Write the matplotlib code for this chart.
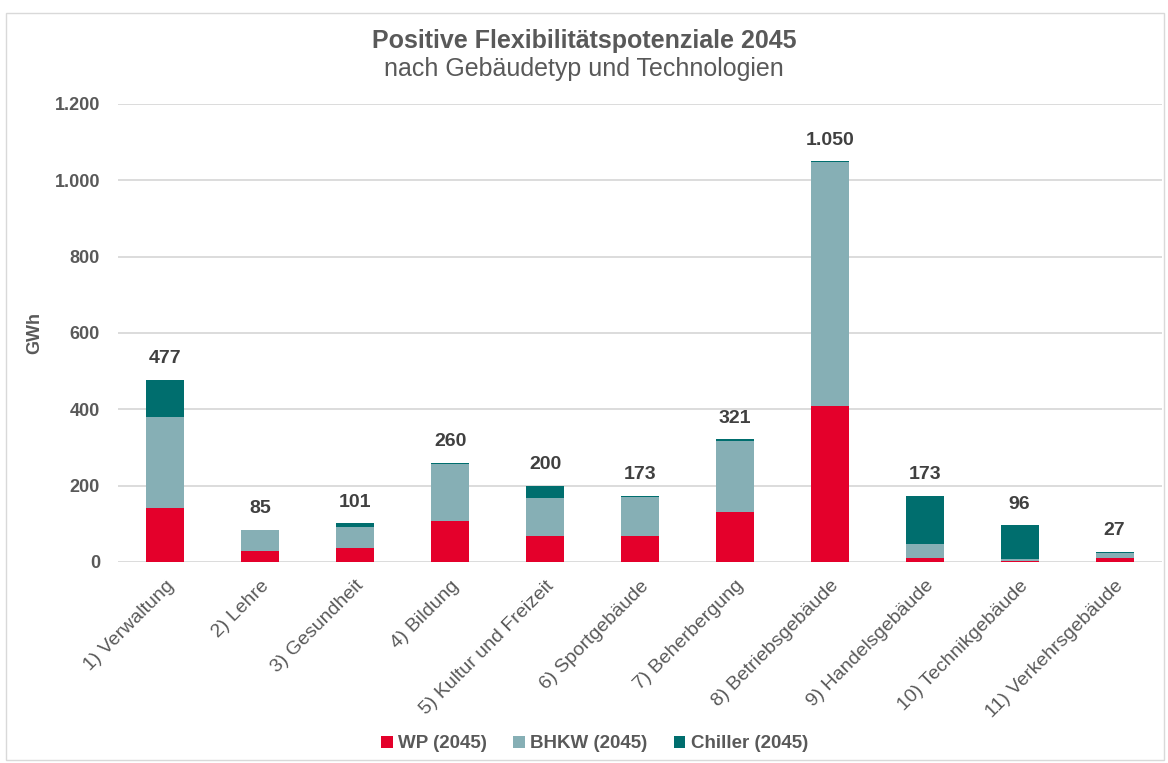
import matplotlib
matplotlib.use("Agg")
import matplotlib.pyplot as plt
from matplotlib.patches import Patch, Rectangle
from matplotlib.ticker import FuncFormatter
import numpy as np

plt.rcParams["font.family"] = ["Liberation Sans", "DejaVu Sans"]

categories = [
    "1) Verwaltung", "2) Lehre", "3) Gesundheit", "4) Bildung",
    "5) Kultur und Freizeit", "6) Sportgebäude", "7) Beherbergung",
    "8) Betriebsgebäude", "9) Handelsgebäude", "10) Technikgebäude",
    "11) Verkehrsgebäude",
]
wp = [142, 30, 36, 108, 69, 69, 132, 409, 10, 2, 10]
bhkw = [238, 54, 57, 148, 99, 102, 184, 639, 38, 5, 14]
chiller = [97, 1, 8, 4, 32, 2, 5, 2, 125, 89, 3]
totals = [477, 85, 101, 260, 200, 173, 321, 1050, 173, 96, 27]

C_WP = "#E4002B"
C_BHKW = "#86AFB5"
C_CHILLER = "#006E6E"
TEXT = "#595959"
LABEL = "#404040"
GRID = "#D9D9D9"


def de_thousands(v, _pos=None):
    return f"{int(round(v)):,}".replace(",", ".")


fig = plt.figure(figsize=(11.68, 7.63), dpi=100)
ax = fig.add_axes([118 / 1168, 201 / 763, 1044 / 1168, 458 / 763])

# chart frame
fig.patches.append(Rectangle((6 / 1168, 3 / 763), 1158 / 1168, 747 / 763,
                             transform=fig.transFigure, fill=False,
                             edgecolor="#D9D9D9", linewidth=1.0))

x = np.arange(len(categories))
w = 0.40
ax.bar(x, wp, w, color=C_WP, zorder=3)
ax.bar(x, bhkw, w, bottom=wp, color=C_BHKW, zorder=3)
ax.bar(x, chiller, w, bottom=np.add(wp, bhkw), color=C_CHILLER, zorder=3)

for xi, t, a, b, c in zip(x, totals, wp, bhkw, chiller):
    ax.annotate(de_thousands(t), (xi, a + b + c), xytext=(0, 9),
                textcoords="offset points", ha="center", va="bottom",
                fontsize=14, fontweight="bold", color=LABEL)

ax.set_xlim(-0.5, len(categories) - 0.5)
ax.set_ylim(0, 1200)
ax.set_yticks(range(0, 1201, 200))
ax.yaxis.set_major_formatter(FuncFormatter(de_thousands))
ax.grid(axis="y", color=GRID, linewidth=1.3, zorder=0)
for s in ax.spines.values():
    s.set_visible(False)

ax.tick_params(axis="y", length=0, pad=13, labelsize=13, labelcolor=TEXT)
for lbl in ax.get_yticklabels():
    lbl.set_fontweight("bold")
ax.set_xticks(x)
ax.set_xticklabels(categories, rotation=45, ha="right", va="top",
                   rotation_mode="anchor", fontsize=14, color=TEXT)
ax.tick_params(axis="x", length=0, pad=11)

ax.set_ylabel("GWh", fontsize=13, fontweight="bold", color=TEXT, labelpad=8)

fig.text(0.5, 1 - 41 / 763, "Positive Flexibilitätspotenziale 2045",
         ha="center", va="center", fontsize=18, fontweight="bold", color=TEXT)
fig.text(0.5, 1 - 69 / 763, "nach Gebäudetyp und Technologien",
         ha="center", va="center", fontsize=18, color=TEXT)

handles = [
    Patch(facecolor=C_WP, label="WP (2045)"),
    Patch(facecolor=C_BHKW, label="BHKW (2045)"),
    Patch(facecolor=C_CHILLER, label="Chiller (2045)"),
]
fig.legend(handles=handles, loc="center", bbox_to_anchor=(0.509, 1 - 744 / 763),
           ncol=3, frameon=False, handlelength=0.6, handleheight=0.6,
           handletextpad=0.3, columnspacing=1.4,
           prop={"size": 13.5, "weight": "bold"}, labelcolor=TEXT)

fig.savefig("out.png", dpi=100)
